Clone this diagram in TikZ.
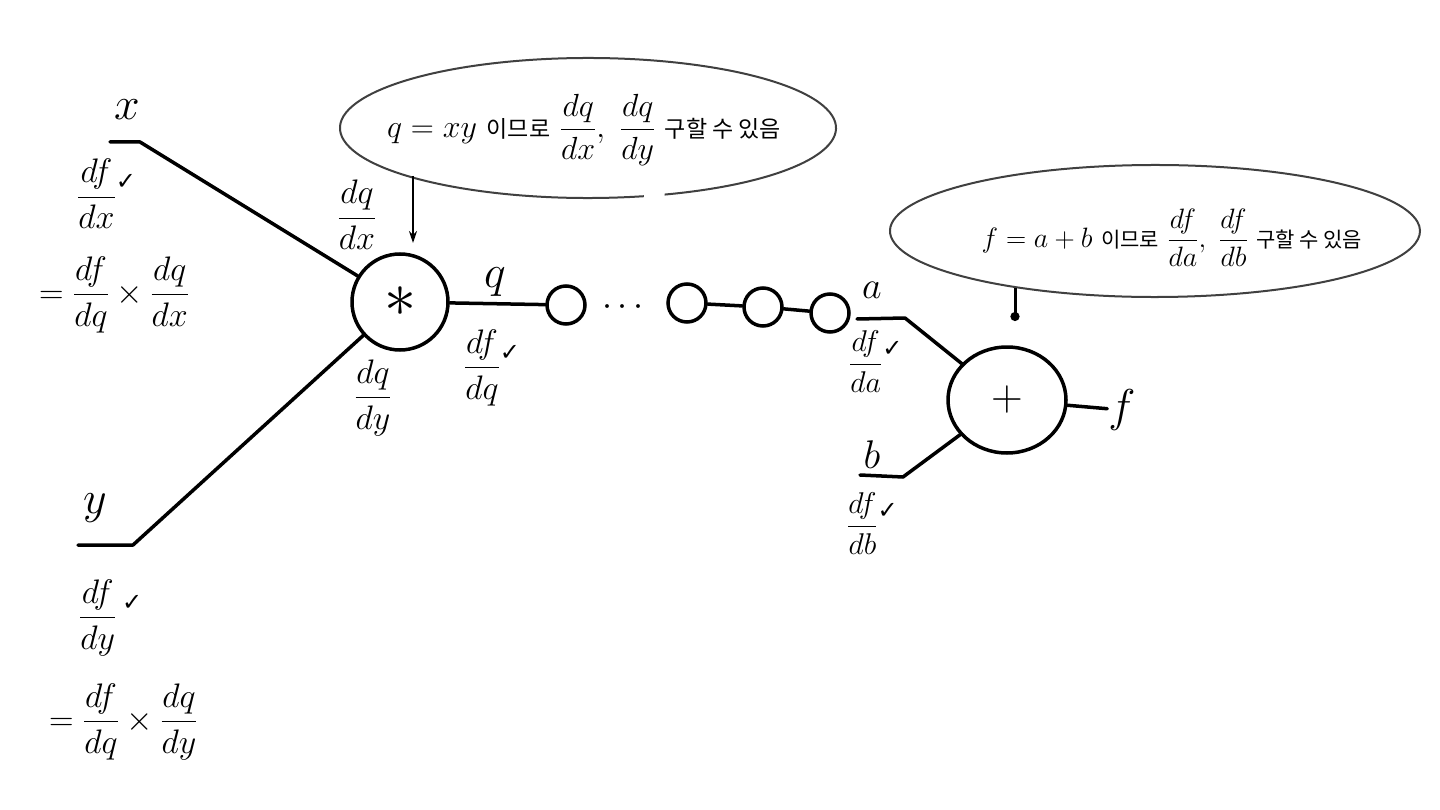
\RequirePackage{fix-cm}
\documentclass[tikz,border=0pt]{standalone}
\usepackage{amsmath}
\usepackage{fontspec}
\newfontfamily\kr{Noto Sans CJK KR}
\newfontfamily\dejavu{DejaVu Sans}
\usetikzlibrary{arrows.meta,shapes.geometric,calc}
\newcommand{\chk}{\raisebox{16pt}{\fontsize{24}{24}\selectfont\dejavu ✓}}
\tikzset{
  wire/.style={line width=3.5pt, line cap=round, line join=round},
  opnode/.style={circle, draw, line width=3.5pt, minimum size=96pt, inner sep=0pt},
  addnode/.style={ellipse, draw, line width=3.5pt, minimum width=118pt, minimum height=106pt, inner sep=0pt},
  midnode/.style={circle, draw, line width=3.5pt, minimum size=38pt, inner sep=0pt},
  bubble/.style={line width=2pt, draw=black!75},
  var/.style={inner sep=1pt, font=\fontsize{46}{50}\selectfont},
  lbl/.style={inner sep=1pt, font=\fontsize{34}{38}\selectfont},
  small/.style={inner sep=1pt, font=\fontsize{30}{34}\selectfont},
}
\begin{document}
\begin{tikzpicture}[x=1pt,y=-1pt]
\useasboundingbox (0,0) rectangle (1440,810);
\fill[white] (0,0) rectangle (1440,810);

% operation nodes
\node[opnode] (mul) at (400,302) {\fontsize{64}{64}\selectfont$\ast$};
\node[addnode] (add) at (1007,400) {\fontsize{44}{44}\selectfont$+$};

% chain nodes
\node[midnode] (c1) at (566,305) {};
\node[midnode] (c2) at (687,303) {};
\node[midnode] (c3) at (763,307) {};
\node[midnode] (c4) at (830,313) {};
\node[inner sep=0pt, font=\fontsize{36}{36}\selectfont] (dots) at (626,308) {$\cdots$};

% input coordinates
\coordinate (xin) at (110,142);
\coordinate (xbend) at (140,142);
\coordinate (yin) at (78,545);
\coordinate (ybend) at (133,545);
\coordinate (abend) at (905,318);
\coordinate (aout) at (857,319);
\coordinate (bin) at (860,475);
\coordinate (bbend) at (903,477);

% labels
\node[var] (xlbl) at (127,110) {$x$};
\node[var] (ylbl) at (95,508) {$y$};
\node[var] (qlbl) at (495,282) {$q$};
\node[var, font=\fontsize{38}{40}\selectfont] (albl) at (872,290) {$a$};
\node[var, font=\fontsize{40}{40}\selectfont] (blbl) at (872,455) {$b$};
\node[var] (flbl) at (1122,410) {$f$};

\node[lbl, anchor=west] (dfdx) at (76,194) {$\dfrac{df}{dx}$\chk};
\node[lbl, anchor=west] (eqx) at (38,295) {$=\dfrac{df}{dq}\times\dfrac{dq}{dx}$};
\node[lbl, anchor=west] (dfdy) at (78,618) {$\dfrac{df}{dy}$\,\chk};
\node[lbl, anchor=west] (eqy) at (48,722) {$=\dfrac{df}{dq}\times\dfrac{dq}{dy}$};
\node[lbl] (dqdx) at (357,215) {$\dfrac{dq}{dx}$};
\node[lbl] (dqdy) at (373,398) {$\dfrac{dq}{dy}$};
\node[lbl, anchor=west] (dfdq) at (463,368) {$\dfrac{df}{dq}$\chk};
\node[small, anchor=west] (dfda) at (848,362) {$\dfrac{df}{da}$\chk};
\node[small, anchor=west] (dfdb) at (846,524) {$\dfrac{df}{db}$\chk};

% wires
\draw[wire] (xin) -- (xbend) -- (mul);
\draw[wire] (yin) -- (ybend) -- (mul);
\draw[wire] (mul) -- (c1);
\draw[wire] (c2) -- (c3);
\draw[wire] (c3) -- (c4);
\draw[wire] (aout) -- (abend) -- (add);
\draw[wire] (bin) -- (bbend) -- (add);
\draw[wire] (add) -- (flbl);

% speech bubble 1
\draw[bubble] (588,128) ++(77:248 and 70) arc[start angle=77, end angle=432, x radius=248, y radius=70];
\node[inner sep=0pt, font=\fontsize{32}{36}\selectfont] (b1txt) at (584,130)
  {$q=xy$ {\kr\fontsize{23}{26}\selectfont 이므로} $\dfrac{dq}{dx},\ \dfrac{dq}{dy}$ {\kr\fontsize{23}{26}\selectfont 구할 수 있음}};
\coordinate (b1a) at (413,176);
\coordinate (arr1) at (413,243);
\draw[line width=2pt, -{Stealth[length=12pt,width=8pt]}] (b1a) -- (arr1);

% speech bubble 2
\draw[bubble] (1155,231) ++(82:265 and 66) arc[start angle=82, end angle=449.5, x radius=265, y radius=66];
\node[inner sep=0pt, font=\fontsize{28}{32}\selectfont] (b2txt) at (1172,238)
  {$f=a+b$ {\kr\fontsize{21}{24}\selectfont 이므로} $\dfrac{df}{da},\ \dfrac{df}{db}$ {\kr\fontsize{21}{24}\selectfont 구할 수 있음}};
\coordinate (b2a) at (1015,288);
\coordinate (arr2) at (1015,321);
\draw[line width=3pt, -{Circle[length=9pt]}] (b2a) -- (arr2);
\end{tikzpicture}
\end{document}
